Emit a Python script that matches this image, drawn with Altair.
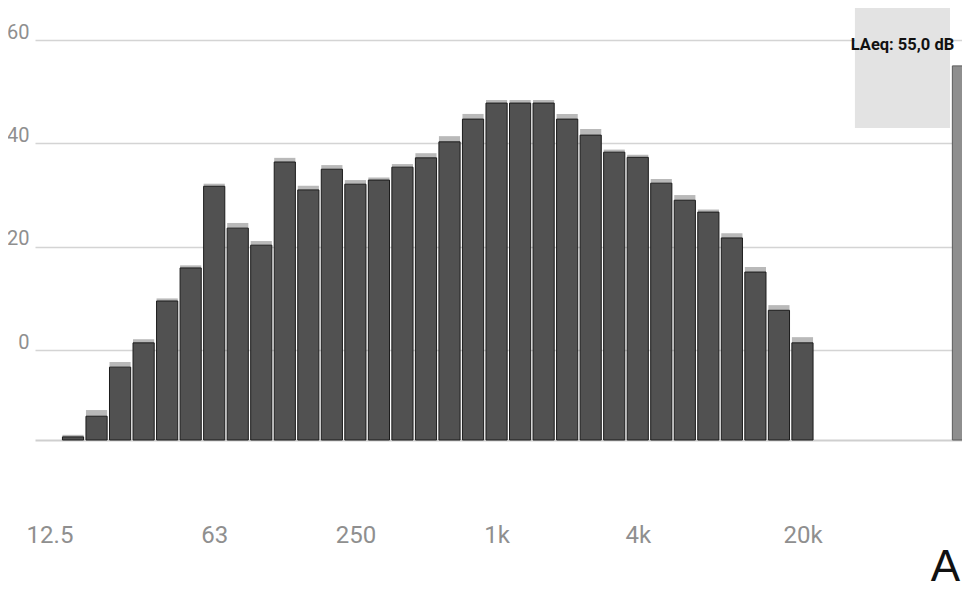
import altair as alt
import pandas as pd

# ---- data ----
bands = ["12.5", "16", "20", "25", "31.5", "40", "50", "63", "80", "100", "125", "160",
         "200", "250", "315", "400", "500", "630", "800", "1k", "1.25k", "1.6k", "2k",
         "2.5k", "3.15k", "4k", "5k", "6.3k", "8k", "10k", "12.5k", "16k", "20k"]
bar_bands = bands[1:]  # 16 Hz .. 20 kHz carry a visible bar
levels = [-16.8, -12.8, -3.3, 1.4, 9.5, 15.9, 31.7, 23.6, 20.3, 36.4, 31.0, 35.0, 32.1,
          32.9, 35.4, 37.2, 40.3, 44.7, 47.8, 47.8, 47.8, 44.7, 41.6, 38.3, 37.3, 32.3,
          29.0, 26.7, 21.7, 15.1, 7.7, 1.4]
holds = [-16.4, -11.6, -2.3, 2.1, 10.0, 16.4, 32.2, 24.6, 21.1, 37.2, 31.8, 35.8, 32.9,
         33.4, 36.0, 38.1, 41.4, 45.7, 48.4, 48.4, 48.4, 45.7, 42.8, 38.8, 37.8, 33.1,
         30.0, 27.2, 22.6, 16.1, 8.7, 2.5]
tick_bands = ["12.5", "63", "250", "1k", "4k", "20k"]
y_ticks = [0, 20, 40, 60]
laeq_value = 55.0
laeq_text = "LAeq: 55,0 dB"
overall_label = "A"

# ---- layout ----
W, H = 927, 432
Y_MIN, Y_MAX = -17.4, 66.2
X_MIN, X_MAX = -0.616, 38.78
FONT = "Roboto, Liberation Sans Narrow, sans-serif"
HALF = 0.45

df = pd.DataFrame({
    "band": bar_bands,
    "idx": [bands.index(b) for b in bar_bands],
    "level": levels,
    "hold": holds,
})
df["x0"] = df["idx"] - HALF
df["x1"] = df["idx"] + HALF

xscale = alt.Scale(domain=[X_MIN, X_MAX], nice=False, zero=False)
yscale = alt.Scale(domain=[Y_MIN, Y_MAX], nice=False, zero=False)

label_arr = "[" + ",".join("'" + b + "'" for b in bands) + "]"

x_axis = alt.Axis(
    values=[bands.index(b) for b in tick_bands],
    labelExpr=label_arr + "[datum.value]",
    grid=False, ticks=False, tickSize=0,
    domain=True, domainColor="#cfcfcf", domainWidth=2,
    labelPadding=95, labelBaseline="middle",
    labelFont=FONT, labelFontSize=24, labelColor="#8f8f8f",
    title=None,
)
y_axis = alt.Axis(
    values=y_ticks, grid=True, gridColor="#d4d4d4", gridWidth=1.5,
    domain=False, ticks=False, tickSize=0,
    labelAlign="right", labelPadding=6, labelOffset=-8,
    labelFont=FONT, labelFontSize=20, labelColor="#8f8f8f",
    title=None,
)

bars = alt.Chart(df).mark_bar(color="#515151", stroke="#1c1c1c", strokeWidth=1).encode(
    x=alt.X("x0:Q", scale=xscale, axis=x_axis),
    x2="x1:Q",
    y=alt.Y("level:Q", scale=yscale, axis=y_axis),
    y2=alt.value(H),
)

caps = alt.Chart(df).mark_bar(color="#b9b9b9").encode(
    x=alt.X("x0:Q", scale=xscale),
    x2="x1:Q",
    y=alt.Y("hold:Q", scale=yscale),
    y2="level:Q",
)

box_df = pd.DataFrame({"x0": [34.23], "x1": [38.27], "y0": [43.0], "y1": [Y_MAX + 2]})
box = alt.Chart(box_df).mark_rect(color="#e3e3e3").encode(
    x=alt.X("x0:Q", scale=xscale), x2="x1:Q",
    y=alt.Y("y0:Q", scale=yscale), y2="y1:Q",
)
box_text = alt.Chart(pd.DataFrame({"x": [36.25], "y": [59.0], "t": [laeq_text]})).mark_text(
    font=FONT, fontSize=16.5, fontWeight="bold", color="#111111", align="center", baseline="middle"
).encode(
    x=alt.X("x:Q", scale=xscale), y=alt.Y("y:Q", scale=yscale), text="t:N"
)

meter_df = pd.DataFrame({"x0": [38.37], "x1": [38.9], "v": [laeq_value], "b": [Y_MIN]})
meter = alt.Chart(meter_df).mark_rect(color="#8e8e8e", stroke="#5a5a5a", strokeWidth=1).encode(
    x=alt.X("x0:Q", scale=xscale), x2="x1:Q",
    y=alt.Y("v:Q", scale=yscale), y2="b:Q",
)

a_text = alt.Chart(pd.DataFrame({"t": [overall_label]})).mark_text(
    font="Liberation Sans, Arial, sans-serif", fontSize=44, color="#111111",
    align="right", baseline="middle"
).encode(
    x=alt.value(W - 2), y=alt.value(H + 128), text="t:N"
)

chart = alt.layer(box, caps, bars, meter, box_text, a_text).properties(
    width=W, height=H,
    autosize=alt.AutoSizeParams(type="none"),
    padding={"left": 27, "top": 0, "right": 0, "bottom": 160},
    background="white",
).configure_view(stroke=None)

chart.save("out.html", embed_options={"renderer": "svg", "actions": False})
